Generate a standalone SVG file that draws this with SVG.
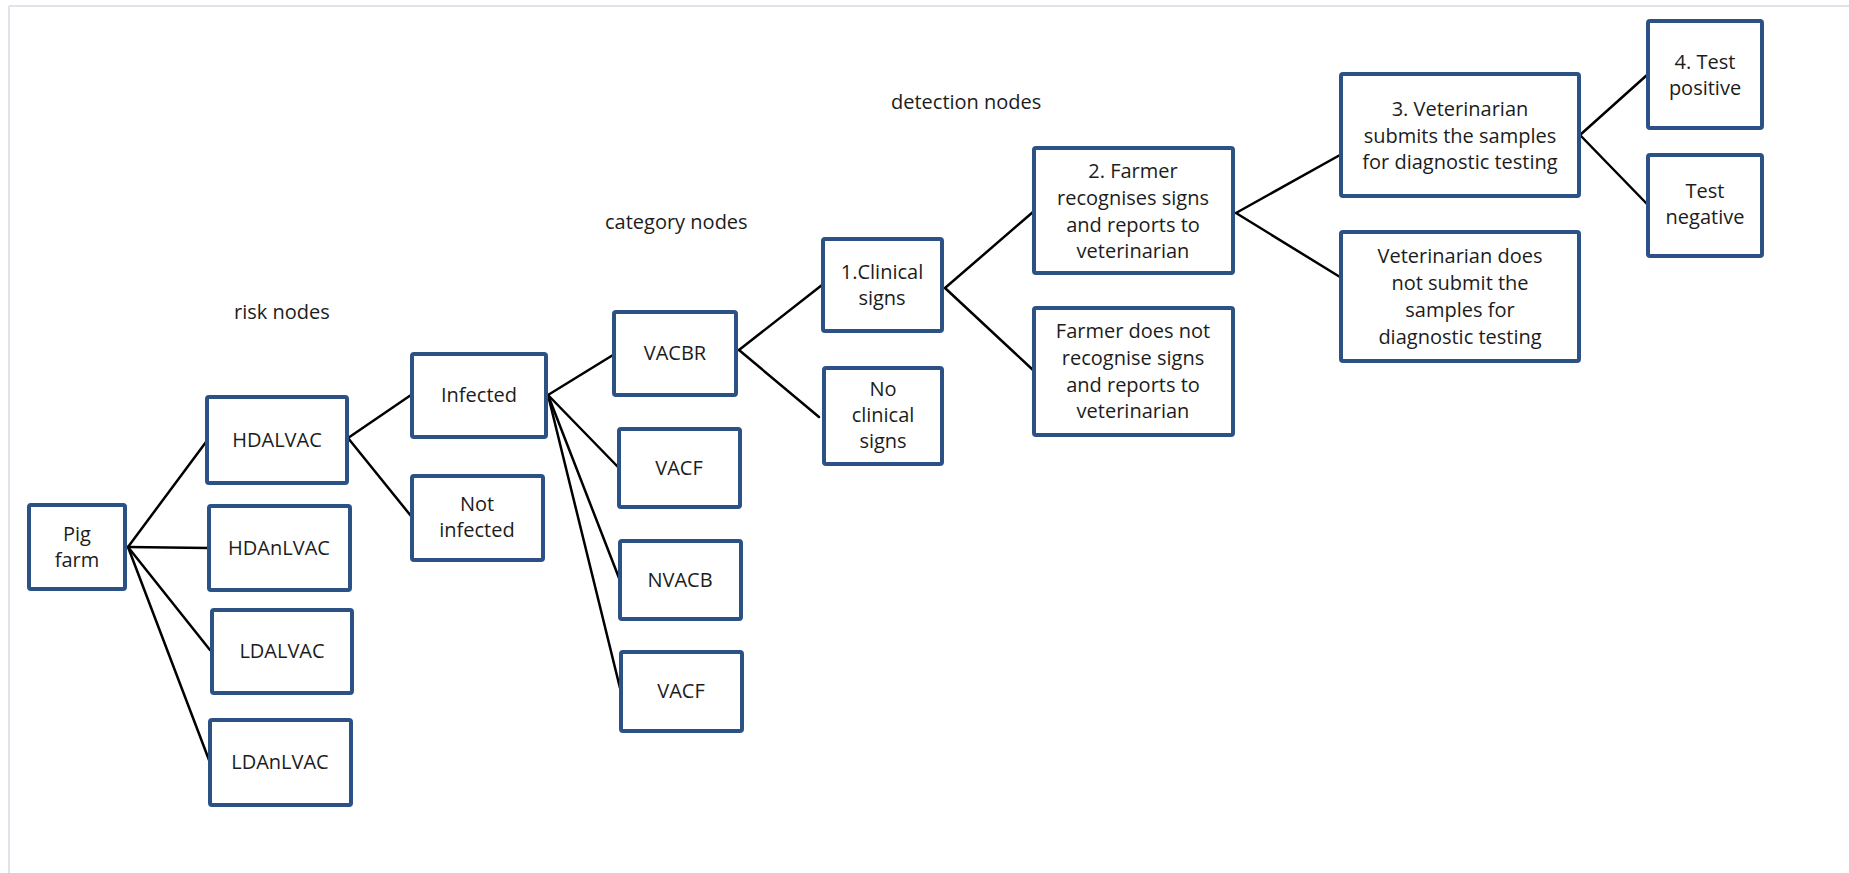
<svg xmlns="http://www.w3.org/2000/svg" width="1849" height="873" viewBox="0 0 1849 873">
<style>
.box{fill:#fff;stroke:#2b5185;stroke-width:4}
.t{font-family:"Open Sans","Liberation Sans",sans-serif;font-size:20px;fill:#1c1c1c;text-anchor:middle}
.lbl{font-family:"Open Sans","Liberation Sans",sans-serif;font-size:20px;fill:#1c1c1c}
.c line{stroke:#000;stroke-width:2.5;stroke-linecap:round}
</style>
<rect width="1849" height="873" fill="#fff"/>
<g id="frame" stroke="#dfe3ea" stroke-width="2" fill="none">
<line x1="9" y1="6" x2="1849" y2="6"/>
<line x1="9" y1="6" x2="9" y2="873"/>
</g>
<g id="labels">
<text class="lbl" x="234" y="319">risk nodes</text>
<text class="lbl" x="605" y="229">category nodes</text>
<text class="lbl" x="891" y="109">detection nodes</text>
</g>
<g id="connectors" class="c">
<line x1="128" y1="547" x2="206" y2="442"/>
<line x1="128" y1="547" x2="208" y2="548"/>
<line x1="128" y1="547" x2="210" y2="650"/>
<line x1="128" y1="547" x2="209" y2="760"/>
<line x1="348" y1="438" x2="411" y2="395"/>
<line x1="348" y1="438" x2="411" y2="516"/>
<line x1="548" y1="395" x2="613" y2="355"/>
<line x1="548" y1="395" x2="618" y2="467"/>
<line x1="548" y1="395" x2="619" y2="578"/>
<line x1="548" y1="395" x2="620" y2="688"/>
<line x1="739" y1="350" x2="822" y2="285"/>
<line x1="739" y1="350" x2="819" y2="417"/>
<line x1="945" y1="288" x2="1033" y2="212"/>
<line x1="945" y1="288" x2="1033" y2="370"/>
<line x1="1236" y1="213" x2="1340" y2="155"/>
<line x1="1236" y1="213" x2="1340" y2="277"/>
<line x1="1580" y1="135" x2="1647" y2="75"/>
<line x1="1580" y1="135" x2="1647" y2="204"/>
</g>
<g id="pig-farm"><rect class="box" x="29" y="505" width="96" height="84" rx="2"/><text class="t" x="77" y="541">Pig</text><text class="t" x="77" y="567">farm</text></g>
<g id="hdalvac"><rect class="box" x="207" y="397" width="140" height="86" rx="2"/><text class="t" x="277" y="447">HDALVAC</text></g>
<g id="hdanlvac"><rect class="box" x="209" y="506" width="141" height="84" rx="2"/><text class="t" x="279" y="555">HDAnLVAC</text></g>
<g id="ldalvac"><rect class="box" x="212" y="610" width="140" height="83" rx="2"/><text class="t" x="282" y="658">LDALVAC</text></g>
<g id="ldanlvac"><rect class="box" x="210" y="720" width="141" height="85" rx="2"/><text class="t" x="280" y="769">LDAnLVAC</text></g>
<g id="infected"><rect class="box" x="412" y="354" width="134" height="83" rx="2"/><text class="t" x="479" y="402">Infected</text></g>
<g id="not-infected"><rect class="box" x="412" y="476" width="131" height="84" rx="2"/><text class="t" x="477" y="511">Not</text><text class="t" x="477" y="537">infected</text></g>
<g id="vacbr"><rect class="box" x="614" y="312" width="122" height="83" rx="2"/><text class="t" x="675" y="360">VACBR</text></g>
<g id="vacf1"><rect class="box" x="619" y="429" width="121" height="78" rx="2"/><text class="t" x="679" y="475">VACF</text></g>
<g id="nvacb"><rect class="box" x="620" y="541" width="121" height="78" rx="2"/><text class="t" x="680" y="587">NVACB</text></g>
<g id="vacf2"><rect class="box" x="621" y="652" width="121" height="79" rx="2"/><text class="t" x="681" y="698">VACF</text></g>
<g id="clinical"><rect class="box" x="823" y="239" width="119" height="92" rx="2"/><text class="t" x="882" y="279">1.Clinical</text><text class="t" x="882" y="305">signs</text></g>
<g id="no-clinical"><rect class="box" x="824" y="368" width="118" height="96" rx="2"/><text class="t" x="883" y="396">No</text><text class="t" x="883" y="422">clinical</text><text class="t" x="883" y="448">signs</text></g>
<g id="farmer-recognises"><rect class="box" x="1034" y="148" width="199" height="125" rx="2"/><text class="t" x="1133" y="178">2. Farmer</text><text class="t" x="1133" y="205">recognises signs</text><text class="t" x="1133" y="232">and reports to</text><text class="t" x="1133" y="258">veterinarian</text></g>
<g id="farmer-not"><rect class="box" x="1034" y="308" width="199" height="127" rx="2"/><text class="t" x="1133" y="338">Farmer does not</text><text class="t" x="1133" y="365">recognise signs</text><text class="t" x="1133" y="392">and reports to</text><text class="t" x="1133" y="418">veterinarian</text></g>
<g id="vet-submits"><rect class="box" x="1341" y="74" width="238" height="122" rx="2"/><text class="t" x="1460" y="116">3. Veterinarian</text><text class="t" x="1460" y="143">submits the samples</text><text class="t" x="1460" y="169">for diagnostic testing</text></g>
<g id="vet-not"><rect class="box" x="1341" y="232" width="238" height="129" rx="2"/><text class="t" x="1460" y="263">Veterinarian does</text><text class="t" x="1460" y="290">not submit the</text><text class="t" x="1460" y="317">samples for</text><text class="t" x="1460" y="344">diagnostic testing</text></g>
<g id="test-positive"><rect class="box" x="1648" y="21" width="114" height="107" rx="2"/><text class="t" x="1705" y="69">4. Test</text><text class="t" x="1705" y="95">positive</text></g>
<g id="test-negative"><rect class="box" x="1648" y="155" width="114" height="101" rx="2"/><text class="t" x="1705" y="198">Test</text><text class="t" x="1705" y="224">negative</text></g>
</svg>
